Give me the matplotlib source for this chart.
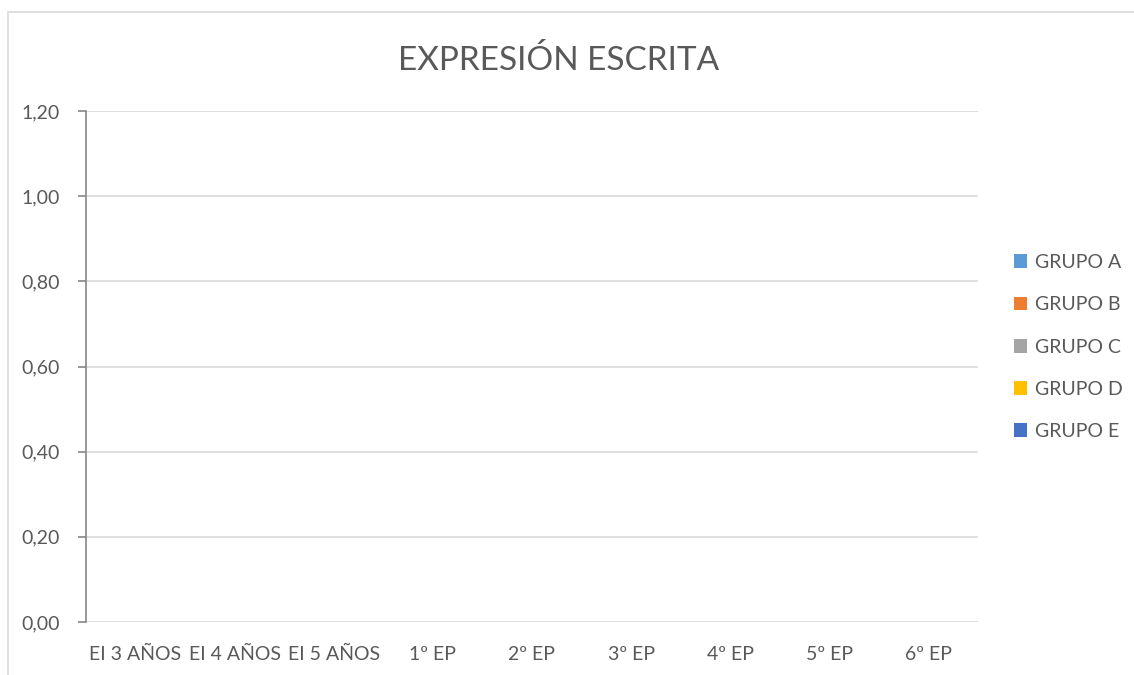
import matplotlib
matplotlib.use("Agg")
import matplotlib.pyplot as plt
from matplotlib.patches import Rectangle
import numpy as np

categories = ["EI 3 AÑOS", "EI 4 AÑOS", "EI 5 AÑOS", "1º EP", "2º EP", "3º EP", "4º EP", "5º EP", "6º EP"]
series_names = ["GRUPO A", "GRUPO B", "GRUPO C", "GRUPO D", "GRUPO E"]
grupo_a = [0, 0, 0, 0, 0, 0, 0, 0, 0]
grupo_b = [0, 0, 0, 0, 0, 0, 0, 0, 0]
grupo_c = [0, 0, 0, 0, 0, 0, 0, 0, 0]
grupo_d = [0, 0, 0, 0, 0, 0, 0, 0, 0]
grupo_e = [0, 0, 0, 0, 0, 0, 0, 0, 0]
yticks = [0.0, 0.2, 0.4, 0.6, 0.8, 1.0, 1.2]
ytick_labels = ["0,00", "0,20", "0,40", "0,60", "0,80", "1,00", "1,20"]
colors = ["#5B9BD5", "#ED7D31", "#A5A5A5", "#FFC000", "#4472C4"]

plt.rcParams['font.family'] = ['Lato', 'DejaVu Sans']

W, H = 1134, 675
fig = plt.figure(figsize=(W / 100, H / 100), dpi=100)

# outer chart border
fig.patches.append(Rectangle((8 / W, -0.01), 1.05, (H - 12) / H + 0.01,
                             transform=fig.transFigure, fill=False,
                             edgecolor="#D9D9D9", linewidth=1.2))

left, right, top, bottom = 86, 978, 111, 622
ax = fig.add_axes([left / W, 1 - bottom / H, (right - left) / W, (bottom - top) / H])

series = [grupo_a, grupo_b, grupo_c, grupo_d, grupo_e]
x = np.arange(len(categories))
n = len(series)
bw = 0.8 / n
for i, (name, vals, c) in enumerate(zip(series_names, series, colors)):
    ax.bar(x - 0.4 + bw * (i + 0.5), vals, width=bw, color=c, label=name)

ax.set_xlim(-0.5, len(categories) - 0.5)
ax.set_ylim(0, 1.2)
ax.set_yticks(yticks)
ax.set_yticklabels(ytick_labels)
ax.set_xticks(x)
ax.set_xticklabels(categories)
ax.yaxis.grid(True, color="#D9D9D9", linewidth=1.2)
ax.set_axisbelow(True)
for s in ["top", "right", "bottom"]:
    ax.spines[s].set_visible(False)
ax.spines["left"].set_color("#868686")
ax.spines["left"].set_linewidth(1.2)
ax.tick_params(axis="y", length=6, color="#868686", width=1.2, labelsize=14,
               labelcolor="#595959", pad=13)
ax.tick_params(axis="x", length=0, labelsize=14, labelcolor="#595959", pad=17)

fig.text(559 / W, 1 - 60 / H, "EXPRESIÓN ESCRITA", ha="center", va="center",
         fontsize=24, color="#595959")

leg = ax.legend(loc="center left", bbox_to_anchor=(996 / W, 1 - 347 / H),
                bbox_transform=fig.transFigure, frameon=False, fontsize=14,
                labelcolor="#595959", handlelength=0.7, handleheight=0.7,
                handletextpad=0.4, labelspacing=1.3)

fig.savefig("out.png", dpi=100)
